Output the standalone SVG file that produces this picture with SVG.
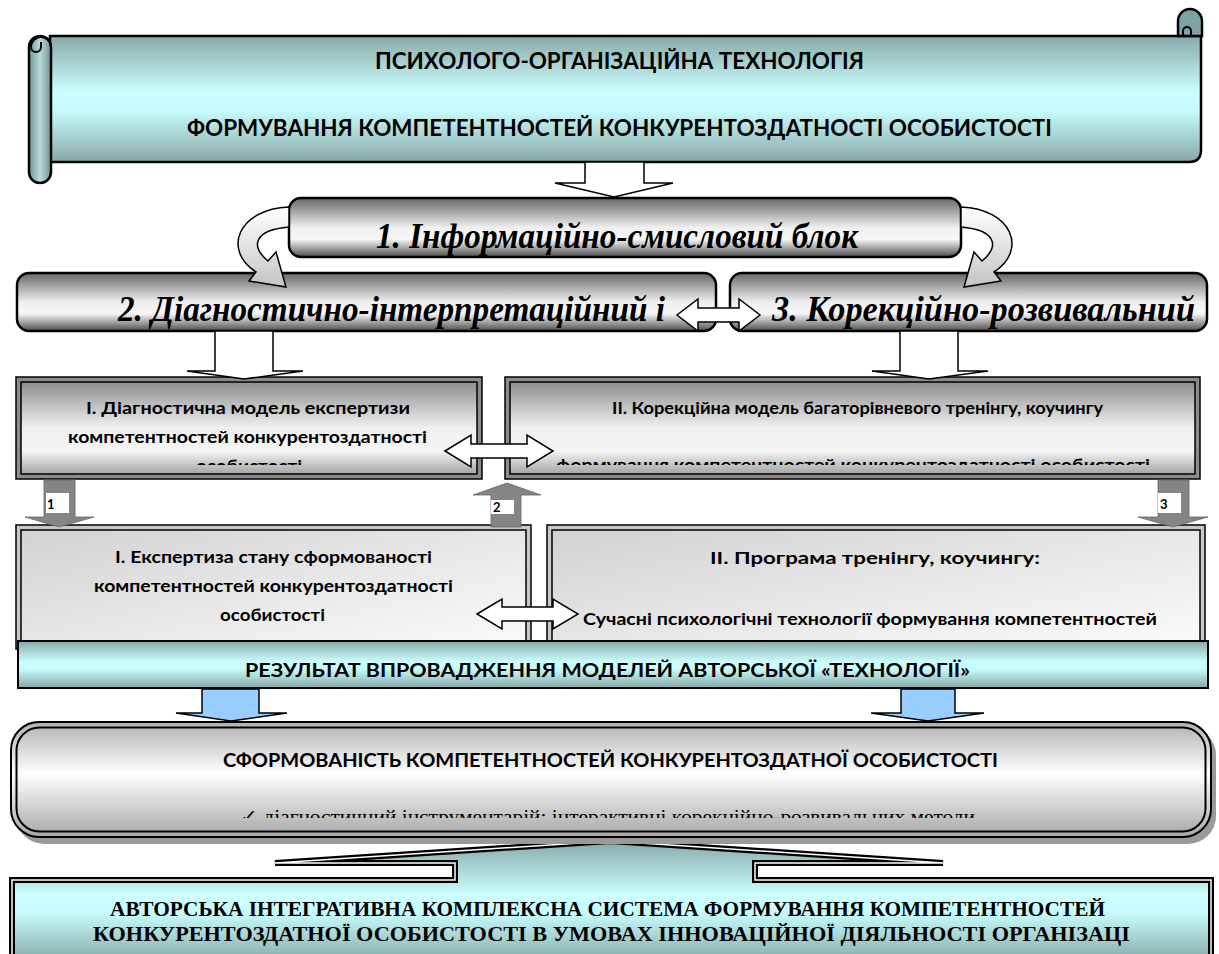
<svg xmlns="http://www.w3.org/2000/svg" width="1219" height="954" viewBox="0 0 1219 954">
<defs>
  <linearGradient id="teal" x1="0" y1="0" x2="0" y2="1">
    <stop offset="0" stop-color="#87a9a8"/>
    <stop offset="0.45" stop-color="#ccffff"/>
    <stop offset="0.6" stop-color="#c6fafa"/>
    <stop offset="1" stop-color="#86a8a7"/>
  </linearGradient>
  <linearGradient id="tealH" x1="0" y1="0" x2="1" y2="0">
    <stop offset="0" stop-color="#6f9493"/>
    <stop offset="0.5" stop-color="#b9dcdc"/>
    <stop offset="1" stop-color="#6f9493"/>
  </linearGradient>
  <linearGradient id="grayBlk" x1="0" y1="0" x2="0" y2="1">
    <stop offset="0" stop-color="#666666"/>
    <stop offset="0.5" stop-color="#efefef"/>
    <stop offset="0.7" stop-color="#f6f6f6"/>
    <stop offset="1" stop-color="#4d4d4d"/>
  </linearGradient>
  <linearGradient id="model" x1="0" y1="0" x2="0" y2="1">
    <stop offset="0" stop-color="#8e8e8e"/>
    <stop offset="0.5" stop-color="#f0f0f0"/>
    <stop offset="0.75" stop-color="#f4f4f4"/>
    <stop offset="1" stop-color="#a4a4a4"/>
  </linearGradient>
  <linearGradient id="lower" x1="0" y1="0" x2="1" y2="1">
    <stop offset="0" stop-color="#d2d2d2"/>
    <stop offset="1" stop-color="#fbfbfb"/>
  </linearGradient>
  <linearGradient id="big" x1="0" y1="0" x2="0" y2="1">
    <stop offset="0" stop-color="#b0b0b0"/>
    <stop offset="0.45" stop-color="#ffffff"/>
    <stop offset="1" stop-color="#a6a6a6"/>
  </linearGradient>
  <linearGradient id="curv" x1="0" y1="0" x2="0" y2="1">
    <stop offset="0" stop-color="#ffffff"/>
    <stop offset="1" stop-color="#c4c4c4"/>
  </linearGradient>
  <clipPath id="clipM1"><rect x="20" y="382" width="455" height="83"/></clipPath>
  <clipPath id="clipM2"><rect x="510" y="382" width="685" height="83"/></clipPath>
  <clipPath id="clipBig"><rect x="20" y="726" width="1190" height="92"/></clipPath>
</defs>
<style>
  .sans{font-family:Lato,"Liberation Sans",sans-serif;font-weight:bold;fill:#000}
  .serif{font-family:"Liberation Serif","Times New Roman",serif;font-weight:bold;fill:#000}
  .it{font-style:italic}
  .blk{fill:url(#grayBlk);stroke:#000;stroke-width:2.5}
  .oa{fill:#fff;stroke:#000;stroke-width:1.5}
  .ga{fill:#858585;stroke:#666;stroke-width:0.8}
  .ba{fill:#99ccff;stroke:#000;stroke-width:1.5}
  .lbl{fill:#fff}
  .num{font-family:Lato,"Liberation Sans",sans-serif;font-weight:bold;font-size:13px;fill:#000}
  .frame{fill:#8c8c8c;stroke:#000;stroke-width:1.5}
  .frame2{fill:#c8c8c8;stroke:#000;stroke-width:1.5}
</style>

<!-- Title scroll -->
<g id="title">
  <path d="M50 36 H1201 V150 Q1201 162 1189 162 H50 Z" fill="url(#teal)" stroke="#000" stroke-width="2.5"/>
  <path d="M1178 36 V21 A12 12 0 0 1 1202 21 V36 Z" fill="#7fa3a2" stroke="#000" stroke-width="2.5"/>
  <path d="M1183 36 V31 A4 4 0 0 1 1191 31 V36" fill="none" stroke="#000" stroke-width="2"/>
  <rect x="29" y="36" width="22" height="147" rx="11" fill="url(#tealH)" stroke="#000" stroke-width="2.5"/>
  <path d="M51 47 A10 10 0 1 0 31 47 A5 5 0 0 0 41 47 V42" fill="none" stroke="#000" stroke-width="2"/>
  <text class="sans" x="375" y="69" font-size="22" textLength="489" lengthAdjust="spacingAndGlyphs">ПСИХОЛОГО-ОРГАНІЗАЦІЙНА ТЕХНОЛОГІЯ</text>
  <text class="sans" x="187" y="136" font-size="22" textLength="865" lengthAdjust="spacingAndGlyphs">ФОРМУВАННЯ КОМПЕТЕНТНОСТЕЙ КОНКУРЕНТОЗДАТНОСТІ ОСОБИСТОСТІ</text>
</g>

<!-- Block 1 -->
<g id="block1">
  <rect class="blk" x="289" y="198" width="672" height="59" rx="12"/>
  <text class="serif it" x="376" y="248" font-size="36" textLength="482" lengthAdjust="spacingAndGlyphs">1. Інформаційно-смисловий блок</text>
</g>

<!-- Block 2 -->
<g id="block2">
  <rect class="blk" x="17" y="273" width="699" height="58" rx="12"/>
  <text class="serif it" x="118" y="321" font-size="36" textLength="547" lengthAdjust="spacingAndGlyphs">2. Діагностично-інтерпретаційний і</text>
</g>

<!-- Block 3 -->
<g id="block3">
  <rect class="blk" x="730" y="273" width="477" height="58" rx="12"/>
  <text class="serif it" x="772" y="321" font-size="36" textLength="423" lengthAdjust="spacingAndGlyphs">3. Корекційно-розвивальний</text>
</g>

<!-- Model I -->
<g id="modelI">
  <rect class="frame" x="16" y="377" width="466" height="102"/>
  <rect x="21" y="382" width="456" height="92" fill="url(#model)" stroke="#000" stroke-width="1.5"/>
  <text class="sans" x="86" y="414" font-size="17.5" textLength="324" lengthAdjust="spacingAndGlyphs">I. Діагностична модель експертизи</text>
  <text class="sans" x="68" y="443" font-size="17.5" textLength="359" lengthAdjust="spacingAndGlyphs">компетентностей конкурентоздатності</text>
  <g clip-path="url(#clipM1)">
    <text class="sans" x="196" y="472" font-size="17.5" textLength="106" lengthAdjust="spacingAndGlyphs">особистості</text>
  </g>
</g>

<!-- Model II -->
<g id="modelII">
  <rect class="frame" x="505" y="377" width="695" height="102"/>
  <rect x="510" y="382" width="685" height="92" fill="url(#model)" stroke="#000" stroke-width="1.5"/>
  <text class="sans" x="612" y="414" font-size="17.5" textLength="491" lengthAdjust="spacingAndGlyphs">II. Корекційна модель багаторівневого тренінгу, коучингу</text>
  <g clip-path="url(#clipM2)">
    <text class="sans" x="556" y="471" font-size="17.5" textLength="594" lengthAdjust="spacingAndGlyphs">формування компетентностей конкурентоздатності особистості</text>
  </g>
</g>

<!-- Lower I -->
<g id="lowerI">
  <rect class="frame2" x="16" y="525" width="515" height="124"/>
  <rect x="21" y="530" width="505" height="117" fill="url(#lower)" stroke="#000" stroke-width="1.5"/>
  <text class="sans" x="115" y="563" font-size="17.5" textLength="317" lengthAdjust="spacingAndGlyphs">I. Експертиза стану сформованості</text>
  <text class="sans" x="94" y="592" font-size="17.5" textLength="359" lengthAdjust="spacingAndGlyphs">компетентностей конкурентоздатності</text>
  <text class="sans" x="220" y="621" font-size="17.5" textLength="105" lengthAdjust="spacingAndGlyphs">особистості</text>
</g>

<!-- Lower II -->
<g id="lowerII">
  <rect class="frame2" x="547" y="525" width="658" height="124"/>
  <rect x="552" y="530" width="648" height="117" fill="url(#lower)" stroke="#000" stroke-width="1.5"/>
  <text class="sans" x="710" y="564" font-size="17.5" textLength="330" lengthAdjust="spacingAndGlyphs">II. Програма тренінгу, коучингу:</text>
  <text class="sans" x="583" y="625" font-size="17.5" textLength="574" lengthAdjust="spacingAndGlyphs">Сучасні психологічні технології формування компетентностей</text>
</g>

<!-- Result bar -->
<g id="result">
  <rect x="18" y="641" width="1190" height="47" fill="url(#teal)" stroke="#000" stroke-width="2"/>
  <text class="sans" x="245" y="677" font-size="19.5" textLength="725" lengthAdjust="spacingAndGlyphs">РЕЗУЛЬТАТ ВПРОВАДЖЕННЯ МОДЕЛЕЙ АВТОРСЬКОЇ «ТЕХНОЛОГІЇ»</text>
</g>

<!-- Bottom box with callout -->
<g id="bottom">
  <path d="M12 880 H455 V863 H275 L610 841 L943 863 H755 V880 H1211 V962 H12 Z" fill="url(#teal)"/>
  <path d="M12 880 H455 V863 H275 L610 841 L943 863 H755 V880 H1211 V962 H12 Z" fill="none" stroke="#000" stroke-width="6" stroke-linejoin="miter"/>
  <path d="M12 880 H455 V863 H275 L610 841 L943 863 H755 V880 H1211 V962 H12 Z" fill="none" stroke="#fff" stroke-width="1.5" stroke-linejoin="miter"/>
  <text class="serif" x="110" y="916" font-size="20" textLength="995" lengthAdjust="spacingAndGlyphs">АВТОРСЬКА ІНТЕГРАТИВНА КОМПЛЕКСНА СИСТЕМА ФОРМУВАННЯ КОМПЕТЕНТНОСТЕЙ</text>
  <text class="serif" x="93" y="941" font-size="20" textLength="1037" lengthAdjust="spacingAndGlyphs">КОНКУРЕНТОЗДАТНОЇ ОСОБИСТОСТІ В УМОВАХ ІННОВАЦІЙНОЇ ДІЯЛЬНОСТІ ОРГАНІЗАЦІ</text>
</g>

<!-- Big box -->
<g id="bigbox">
  <rect x="16" y="727" width="1200" height="117" rx="28" fill="#9a9a9a"/>
  <rect x="11" y="722" width="1200" height="115" rx="28" fill="url(#big)" stroke="#000" stroke-width="2"/>
  <rect x="16.5" y="727.5" width="1189" height="104" rx="23" fill="none" stroke="#000" stroke-width="2"/>
  <text class="sans" x="223" y="767" font-size="19.5" textLength="775" lengthAdjust="spacingAndGlyphs">СФОРМОВАНІСТЬ КОМПЕТЕНТНОСТЕЙ КОНКУРЕНТОЗДАТНОЇ ОСОБИСТОСТІ</text>
  <g clip-path="url(#clipBig)">
    <text x="240" y="823" font-size="19" font-family="Liberation Serif, serif" textLength="735" lengthAdjust="spacingAndGlyphs">✓ діагностичний інструментарій; інтерактивні корекційно-розвивальних методи</text>
  </g>
</g>

<!-- Connectors -->
<g id="connectors">
  <path class="oa" d="M585 162 H644 V183 H673 L614 197 L555 183 H585 Z"/>
  <path id="curveL" d="M289 207 C238 209 222 250 256 272 L249 281 L286 287 L276 252 L268 261 C250 246 254 230 289 227 Z" fill="url(#curv)" stroke="#000" stroke-width="1.5"/>
  <path id="curveR" transform="matrix(-1 0 0 1 1250 0)" d="M289 207 C238 209 222 250 256 272 L249 281 L286 287 L276 252 L268 261 C250 246 254 230 289 227 Z" fill="url(#curv)" stroke="#000" stroke-width="1.5"/>
  <path class="oa" d="M677 315 L698 299 V308 H739 V299 L760 315 L739 331 V322 H698 V331 Z"/>
  <path class="oa" d="M215 331 H273 V371 H303 L244 379 L187 371 H215 Z"/>
  <path class="oa" d="M900 331 H958 V371 H988 L929 379 L872 371 H900 Z"/>
  <path class="oa" d="M445 451 L471 435 V444 H527 V435 L553 451 L527 467 V458 H471 V467 Z"/>
  <path class="oa" d="M477 614 L502 599 V607 H553 V599 L578 614 L553 629 V621 H502 V629 Z"/>
  <path class="ga" d="M44 480 H75 V517 H94 L59 527 L25 517 H44 Z"/>
  <rect class="lbl" x="46" y="493" width="23" height="20"/>
  <text class="num" x="47" y="509">1</text>
  <path class="ga" d="M491 527 V495 H473 L507 483 L541 495 H521 V527 Z"/>
  <rect class="lbl" x="491" y="500" width="23" height="14"/>
  <text class="num" x="493" y="512">2</text>
  <path class="ga" d="M1158 480 H1189 V517 H1208 L1173 527 L1138 517 H1158 Z"/>
  <rect class="lbl" x="1158" y="493" width="23" height="20"/>
  <text class="num" x="1160" y="509">3</text>
  <path class="ba" d="M202 689 H259 V713 H287 L231 721 L176 713 H202 Z"/>
  <path class="ba" d="M901 689 H955 V713 H984 L928 721 L871 713 H901 Z"/>
</g>
</svg>
